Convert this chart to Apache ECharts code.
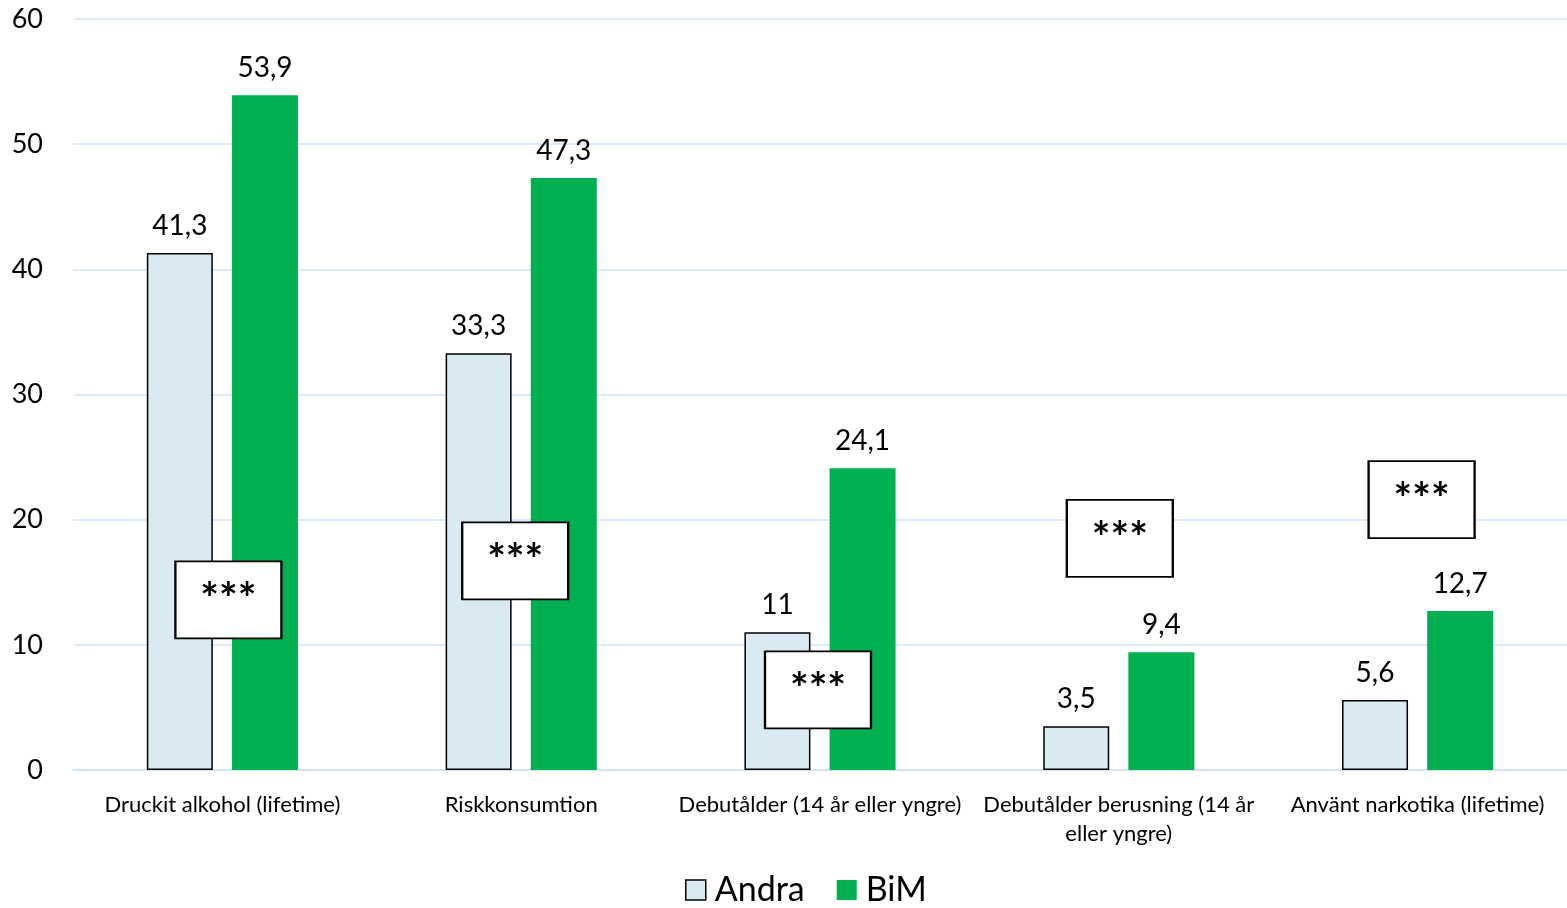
<!DOCTYPE html>
<html>
<head>
<meta charset="utf-8">
<script src="https://cdn.jsdelivr.net/npm/echarts@6/dist/echarts.min.js"></script>
<style>
html,body{margin:0;padding:0;background:#fff;}
#chart{width:1567px;height:908px;}
</style>
</head>
<body>
<div id="chart"></div>
<script>
const categories = [
  'Druckit alkohol (lifetime)',
  'Riskkonsumtion',
  'Debutålder (14 år eller yngre)',
  'Debutålder berusning (14 år\neller yngre)',
  'Använt narkotika (lifetime)'
];
const andra = [41.3, 33.3, 11, 3.5, 5.6];
const bim = [53.9, 47.3, 24.1, 9.4, 12.7];
const starLevels = [13.6, 16.7, 6.4, 18.5, 21.6];
const starText = ['***', '***', '***', '***', '***'];
const yTicks = { min: 0, max: 60, interval: 10 };

// style only: small horizontal nudges of the significance boxes (px)
const starNudge = [6, -6, -2, 1, 4];

const FONT = 'Lato, "Open Sans", sans-serif';
const fmt = v => String(v).replace('.', ',');

const chart = echarts.init(document.getElementById('chart'));
chart.setOption({
  animation: false,
  textStyle: { fontFamily: FONT, color: '#000' },
  grid: { left: 73, right: 0, top: 19, bottom: 138, containLabel: false },
  legend: {
    bottom: -4,
    left: 680,
    itemWidth: 20,
    itemHeight: 20,
    itemGap: 32,
    textStyle: { fontSize: 34, color: '#000', fontFamily: FONT, padding: [0, 0, 0, 4] },
    data: [
      { name: 'Andra', icon: 'rect', itemStyle: { color: '#D9EAF2', borderColor: '#000', borderWidth: 1.5 } },
      { name: 'BiM', icon: 'rect', itemStyle: { color: '#00B050' } }
    ]
  },
  xAxis: {
    type: 'category',
    data: categories,
    axisLine: { show: true, lineStyle: { color: '#CFE3F7', width: 1.5 } },
    axisTick: { show: false },
    axisLabel: { fontSize: 22, color: '#000', margin: 20, lineHeight: 29, interval: 0, fontFamily: FONT }
  },
  yAxis: {
    type: 'value',
    min: yTicks.min, max: yTicks.max, interval: yTicks.interval,
    axisLine: { show: false },
    axisTick: { show: false },
    splitLine: { lineStyle: { color: '#CFE3F7', width: 1.5 } },
    axisLabel: { fontSize: 27, color: '#000', margin: 30, fontFamily: FONT }
  },
  series: [
    {
      name: 'Andra', type: 'bar', data: andra,
      barWidth: 66, barGap: '29%',
      itemStyle: { color: '#D9EAF2', borderColor: '#000', borderWidth: 1.5 },
      label: { show: true, position: 'top', distance: 13, fontSize: 28, color: '#000', fontFamily: FONT, formatter: p => fmt(p.value) }
    },
    {
      name: 'BiM', type: 'bar', data: bim,
      barWidth: 66,
      itemStyle: { color: '#00B050' },
      label: { show: true, position: 'top', distance: 13, fontSize: 28, color: '#000', fontFamily: FONT, formatter: p => fmt(p.value) }
    },
    {
      name: 'stars', type: 'scatter',
      data: starLevels.map((v, i) => ({
        value: [i, v],
        symbolOffset: [starNudge[i], 0],
        label: { formatter: starText[i] }
      })),
      symbol: 'rect', symbolSize: [106, 77],
      itemStyle: { color: '#fff', borderColor: '#000', borderWidth: 2, opacity: 1 },
      label: { show: true, position: 'inside', fontSize: 44, fontWeight: 'bold', color: '#000', fontFamily: FONT },
      z: 5, silent: true
    }
  ]
});
</script>
</body>
</html>
